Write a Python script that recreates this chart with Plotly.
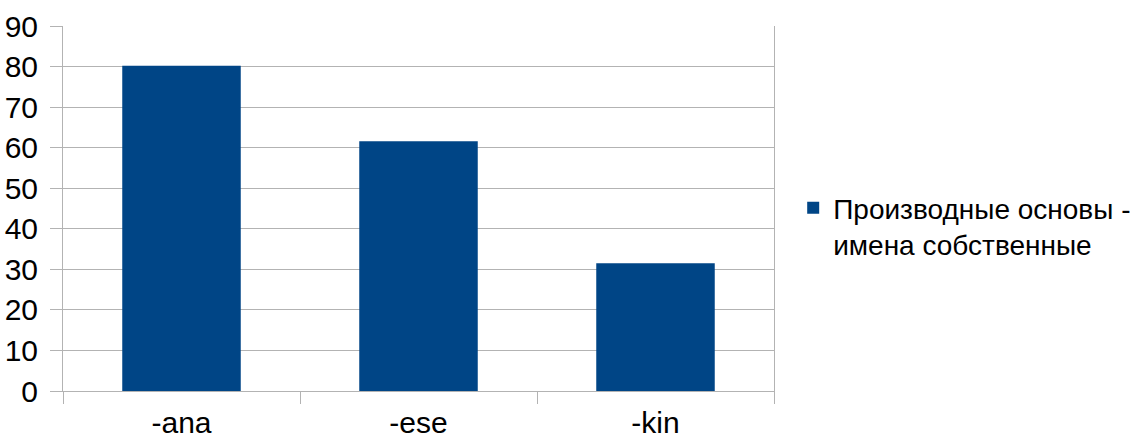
import plotly.graph_objects as go

categories = ["-ana", "-ese", "-kin"]
values = [80.2, 61.6, 31.5]
series_name = "Производные основы -<br>имена собственные"
y_ticks = [0, 10, 20, 30, 40, 50, 60, 70, 80, 90]

GRID = "#b3b3b3"
FONT = "Liberation Sans, Arial, sans-serif"

fig = go.Figure()
fig.add_trace(go.Bar(
    x=categories, y=values, name=series_name,
    marker=dict(color="#004586", line=dict(width=0)),
    showlegend=True,
))

fig.update_layout(
    width=1139, height=439,
    margin=dict(l=63, r=365, t=26, b=48, autoexpand=False),
    paper_bgcolor="white", plot_bgcolor="white",
    font=dict(family=FONT, size=30, color="black"),
    bargap=0.5,
    showlegend=True,
    legend=dict(
        x=1.027, xanchor="left", y=0.57, yanchor="top",
        font=dict(family=FONT, size=28, color="black"),
        valign="top", bgcolor="rgba(0,0,0,0)",
    ),
    xaxis=dict(
        type="category", range=[-0.5, 2.5],
        tickson="boundaries", ticks="outside", ticklen=12, tickwidth=1,
        tickcolor=GRID, showgrid=False, showline=True, linecolor=GRID,
        linewidth=1, tickfont=dict(size=30), fixedrange=True,
        ticklabelstandoff=5,
    ),
    yaxis=dict(
        range=[0, 90], tickvals=y_ticks, ticks="outside", ticklen=12,
        tickwidth=1, tickcolor=GRID, showgrid=True, gridcolor=GRID,
        gridwidth=1, showline=True, mirror=True, linecolor=GRID,
        linewidth=1, zeroline=False, tickfont=dict(size=30),
        ticklabelstandoff=6,
    ),
)

fig.write_html("out.html")
